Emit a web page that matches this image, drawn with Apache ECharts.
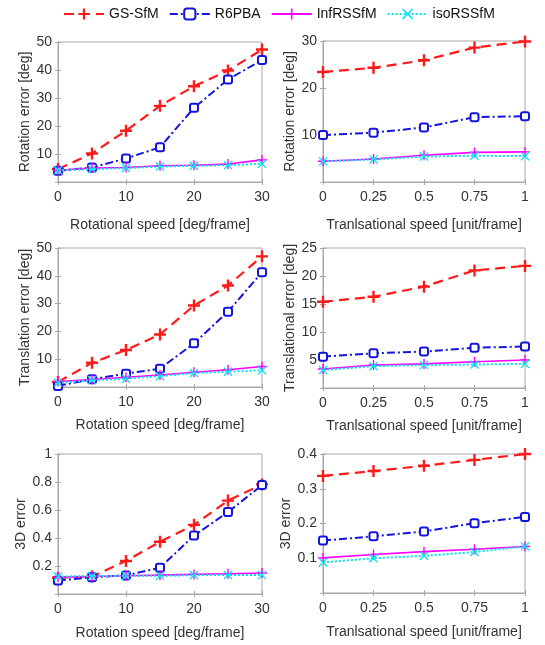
<!DOCTYPE html>
<html>
<head>
<meta charset="utf-8">
<script src="https://cdn.jsdelivr.net/npm/echarts@6/dist/echarts.min.js"></script>
<style>
html,body{margin:0;padding:0;background:#fff;}
#chart{width:545px;height:645px;}
</style>
</head>
<body>
<div id="chart"></div>
<script>
// ---------- data ----------
const seriesNames = ['GS-SfM', 'R6PBA', 'InfRSSfM', 'isoRSSfM'];
const xRot = [0, 5, 10, 15, 20, 25, 30];
const xTrans = [0, 0.25, 0.5, 0.75, 1];

// Panel 1: rotation error vs rotational speed
const rotErrRot_GS  = [4.6, 10.2, 18.3, 27.2, 34.2, 39.8, 47.3];
const rotErrRot_R6  = [4.0, 5.2, 8.4, 12.4, 26.5, 36.6, 43.6];
const rotErrRot_Inf = [4.2, 5.0, 5.2, 5.8, 6.0, 6.4, 7.9];
const rotErrRot_Iso = [4.2, 4.6, 5.0, 5.5, 5.8, 6.0, 6.5];

// Panel 2: rotation error vs translational speed
const rotErrTr_GS  = [23.4, 24.3, 25.9, 28.6, 29.9];
const rotErrTr_R6  = [10.0, 10.5, 11.6, 13.8, 14.0];
const rotErrTr_Inf = [4.4, 4.9, 5.7, 6.3, 6.4];
const rotErrTr_Iso = [4.4, 4.8, 5.4, 5.6, 5.5];

// Panel 3: translation error vs rotation speed
const trErrRot_GS  = [1.8, 8.7, 13.3, 18.9, 29.3, 36.5, 47.0];
const trErrRot_R6  = [0.4, 2.8, 4.8, 6.6, 15.7, 27.1, 41.3];
const trErrRot_Inf = [2.0, 2.7, 3.5, 4.3, 5.3, 6.2, 7.4];
const trErrRot_Iso = [1.5, 2.4, 3.0, 3.9, 5.0, 5.5, 6.0];

// Panel 4: translational error vs translational speed
const trErrTr_GS  = [15.4, 16.3, 18.1, 21.0, 21.8];
const trErrTr_R6  = [5.6, 6.2, 6.5, 7.2, 7.4];
const trErrTr_Inf = [3.4, 4.1, 4.3, 4.7, 5.0];
const trErrTr_Iso = [3.2, 3.9, 4.1, 4.2, 4.3];

// Panel 5: 3D error vs rotation speed
const err3dRot_GS  = [0.116, 0.125, 0.236, 0.373, 0.494, 0.667, 0.783];
const err3dRot_R6  = [0.096, 0.120, 0.133, 0.188, 0.417, 0.585, 0.778];
const err3dRot_Inf = [0.120, 0.125, 0.130, 0.135, 0.140, 0.145, 0.150];
const err3dRot_Iso = [0.125, 0.128, 0.130, 0.130, 0.135, 0.135, 0.135];

// Panel 6: 3D error vs translational speed
const err3dTr_GS  = [0.337, 0.351, 0.366, 0.383, 0.400];
const err3dTr_R6  = [0.151, 0.163, 0.177, 0.201, 0.219];
const err3dTr_Inf = [0.101, 0.111, 0.119, 0.126, 0.134];
const err3dTr_Iso = [0.088, 0.100, 0.107, 0.118, 0.134];

// axis texts and ranges
const xNames = ['Rotational speed [deg/frame]', 'Tranlsational speed [unit/frame]',
                'Rotation speed [deg/frame]', 'Tranlsational speed [unit/frame]',
                'Rotation speed [deg/frame]', 'Tranlsational speed [unit/frame]'];
const yNames = ['Rotation error [deg]', 'Rotation error [deg]',
                'Translation error [deg]', 'Translational error [deg]',
                '3D error', '3D error'];
const yMax = [50, 30, 50, 25, 1, 0.4];
const yInterval = [10, 10, 10, 5, 0.2, 0.1];

// ---------- layout ----------
const panels = [
  { x: xRot,   ys: [rotErrRot_GS, rotErrRot_R6, rotErrRot_Inf, rotErrRot_Iso] },
  { x: xTrans, ys: [rotErrTr_GS, rotErrTr_R6, rotErrTr_Inf, rotErrTr_Iso] },
  { x: xRot,   ys: [trErrRot_GS, trErrRot_R6, trErrRot_Inf, trErrRot_Iso] },
  { x: xTrans, ys: [trErrTr_GS, trErrTr_R6, trErrTr_Inf, trErrTr_Iso] },
  { x: xRot,   ys: [err3dRot_GS, err3dRot_R6, err3dRot_Inf, err3dRot_Iso] },
  { x: xTrans, ys: [err3dTr_GS, err3dTr_R6, err3dTr_Inf, err3dTr_Iso] }
];
const gridBoxes = [
  { left: 58,  top: 42,  width: 204, height: 140 },
  { left: 323, top: 41,  width: 202, height: 141 },
  { left: 58,  top: 248, width: 204, height: 139 },
  { left: 323, top: 248, width: 202, height: 140 },
  { left: 58,  top: 454, width: 204, height: 140 },
  { left: 323, top: 454, width: 202, height: 139 }
];
const xNameGaps = [36, 36, 31, 31, 32, 32];

const PLUS = 'path://M4,0 L6,0 L6,4 L10,4 L10,6 L6,6 L6,10 L4,10 L4,6 L0,6 L0,4 L4,4 Z';
const PLUS_THIN = 'path://M4.3,0 L5.7,0 L5.7,4.3 L10,4.3 L10,5.7 L5.7,5.7 L5.7,10 L4.3,10 L4.3,5.7 L0,5.7 L0,4.3 L4.3,4.3 Z';
const CROSS = 'path://M1,0 L5,4 L9,0 L10,1 L6,5 L10,9 L9,10 L5,6 L1,10 L0,9 L4,5 L0,1 Z';

const styles = [
  { color: '#ff1a1a', lineType: [10, 6], width: 2.2, symbol: PLUS, size: 12 },
  { color: '#1414dc', lineType: [8, 3, 2, 3], width: 2, symbol: 'emptyRoundRect', size: 8 },
  { color: '#ff00ff', lineType: 'solid', width: 1.6, symbol: PLUS_THIN, size: 10 },
  { color: '#00e5f0', lineType: [2, 2], width: 2, symbol: CROSS, size: 9 }
];

const txt = '#333333';
const font = 'Liberation Sans, Arial, sans-serif';

const grid = [], xAxis = [], yAxis = [], series = [];
panels.forEach((p, i) => {
  const isRot = p.x === xRot;
  grid.push(Object.assign({ show: true, borderColor: '#a8a8a8', borderWidth: 1, backgroundColor: '#fff' }, gridBoxes[i]));
  const xCommon = {
    type: 'value', gridIndex: i, min: 0, max: isRot ? 30 : 1, interval: isRot ? 10 : 0.25,
    splitLine: { show: false },
    axisLine: { show: true, lineStyle: { color: '#a8a8a8', width: 1 } },
    axisTick: { show: true, inside: true, length: 3, lineStyle: { color: '#a8a8a8' } }
  };
  xAxis.push(Object.assign({}, xCommon, {
    position: 'bottom',
    name: xNames[i], nameLocation: 'middle', nameGap: xNameGaps[i],
    nameTextStyle: { color: txt, fontSize: 14, fontFamily: font },
    axisLabel: { color: txt, fontSize: 14, fontFamily: font, margin: 8 }
  }));
  const yCommon = {
    type: 'value', gridIndex: i, min: 0, max: yMax[i], interval: yInterval[i],
    splitLine: { show: false },
    axisLine: { show: true, lineStyle: { color: '#a8a8a8', width: 1 } },
    axisTick: { show: true, inside: true, length: 3, lineStyle: { color: '#a8a8a8' } }
  };
  yAxis.push(Object.assign({}, yCommon, {
    position: 'left',
    name: yNames[i], nameLocation: 'middle', nameGap: 21, nameRotate: 90,
    nameTextStyle: { color: txt, fontSize: 14, fontFamily: font },
    axisLabel: { color: txt, fontSize: 14, fontFamily: font, margin: 6, showMinLabel: false }
  }));
  p.ys.forEach((vals, k) => {
    const st = styles[k];
    series.push({
      name: seriesNames[k], type: 'line', xAxisIndex: i, yAxisIndex: i,
      data: p.x.map((xv, j) => [xv, vals[j]]),
      symbol: st.symbol, symbolSize: st.size, showAllSymbol: true,
      lineStyle: { color: st.color, width: st.width, type: st.lineType },
      itemStyle: k === 1 ? { color: st.color, borderColor: st.color, borderWidth: 2 } : { color: st.color },
      animation: false, z: 2 + k
    });
  });
});
// mirrored top/right axes (box ticks)
panels.forEach((p, i) => {
  const isRot = p.x === xRot;
  xAxis.push({
    type: 'value', gridIndex: i, position: 'top', min: 0, max: isRot ? 30 : 1, interval: isRot ? 10 : 0.25,
    splitLine: { show: false }, axisLabel: { show: false },
    axisLine: { show: true, lineStyle: { color: '#a8a8a8', width: 1 } },
    axisTick: { show: true, inside: true, length: 3, lineStyle: { color: '#a8a8a8' } }
  });
  yAxis.push({
    type: 'value', gridIndex: i, position: 'right', min: 0, max: yMax[i], interval: yInterval[i],
    splitLine: { show: false }, axisLabel: { show: false },
    axisLine: { show: true, lineStyle: { color: '#a8a8a8', width: 1 } },
    axisTick: { show: true, inside: true, length: 3, lineStyle: { color: '#a8a8a8' } }
  });
});

const chart = echarts.init(document.getElementById('chart'), null, { renderer: 'canvas' });
chart.setOption({
  backgroundColor: '#fff',
  animation: false,
  legend: {
    data: seriesNames, top: 2, left: 58, itemWidth: 40, itemHeight: 14, itemGap: 10,
    textStyle: { color: '#111', fontSize: 14, fontFamily: font }
  },
  grid, xAxis, yAxis, series
});
</script>
</body>
</html>
